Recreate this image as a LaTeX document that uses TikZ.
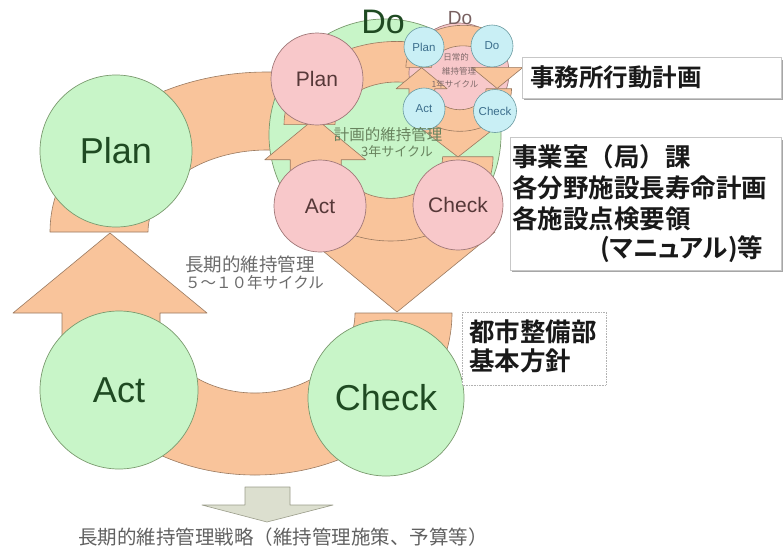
\documentclass[tikz,border=0pt]{standalone}
\usepackage{fontspec}
\setmainfont{Liberation Sans}
\newfontfamily\cjk{Noto Sans CJK JP}[BoldFont={Noto Sans CJK JP Bold}]
\definecolor{orf}{HTML}{F9C49B}
\definecolor{ord}{HTML}{9A7A60}
\definecolor{grf}{HTML}{C8F5C8}
\definecolor{grd}{HTML}{7A9A6E}
\definecolor{grt}{HTML}{1F4A22}
\definecolor{pkf}{HTML}{F8C8CA}
\definecolor{pkd}{HTML}{A07878}
\definecolor{pkt}{HTML}{563838}
\definecolor{blf}{HTML}{C9EFF5}
\definecolor{bld}{HTML}{6A9AA0}
\definecolor{blt}{HTML}{3C6E8C}
\definecolor{gyf}{HTML}{DCDFCF}
\definecolor{gyd}{HTML}{9A9C8A}
\newcommand\orangetop{%
  \path[orng] (50,232) arc[start angle=180,end angle=300,x radius=217,y radius=160]
    -- (326.5,161) arc[start angle=300,end angle=180,x radius=119,y radius=82] -- cycle;}
\newcommand\orangebottom{%
  \path[orng] (452,313) arc[start angle=0,end angle=135,x radius=197,y radius=162]
    -- (184.3,369.6) arc[start angle=135,end angle=0,x radius=100,y radius=80] -- cycle;}
\newcommand\orangeleft{%
  \path[orng] (62,365) -- (62,313) -- (13,313) -- (110,233) -- (207,313) -- (160,313) -- (160,365) -- cycle;}
\newcommand\orangeparts{\orangetop\orangebottom\orangeleft}
\newcommand\orangehead{\path[orng] (300,232) -- (495,232) -- (397,312) -- cycle;}
\begin{document}
\begin{tikzpicture}[x=1pt,y=-1pt,
  orng/.style={fill=orf,draw=ord,line width=0.6pt,line join=round},
  gc/.style={circle,fill=grf,draw=grd,line width=0.7pt,inner sep=0pt,text=grt},
  pc/.style={circle,fill=pkf,draw=pkd,line width=0.7pt,inner sep=0pt,text=pkt},
  bc/.style={circle,fill=blf,draw=bld,line width=0.6pt,inner sep=0pt,text=blt},
  boxtxt/.style={anchor=west,inner sep=0pt,font=\cjk\bfseries\fontsize{25.5}{28}\selectfont,text=black!90},
  boxfr/.style={fill=white,draw=black!22,line width=0.6pt},
  shadow/.style={fill=black!35}
]
\useasboundingbox (0,0) rectangle (784,549);
\fill[white] (0,0) rectangle (784,549);

% ---------- large cycle ----------
\orangeparts
\node[gc,minimum size=232pt] (LD) at (385,135) {};
\orangehead
\node[gc,minimum size=152pt,font=\fontsize{36}{38}\selectfont] (LP) at (116,151) {Plan};
\node[gc,minimum size=158pt,font=\fontsize{36}{38}\selectfont] (LA) at (119,390) {Act};
\node[gc,minimum size=156pt,font=\fontsize{36}{38}\selectfont] (LC) at (386,398) {Check};

% ---------- middle cycle ----------
\begin{scope}[shift={(258,4)},scale=0.52]
  \orangetop
\end{scope}
\begin{scope}[shift={(258,-6)},scale=0.52]
  \orangebottom
\end{scope}
\begin{scope}[shift={(258,-3)},scale=0.52]
  \orangeleft
\end{scope}
\node[pc,minimum size=100pt] (MD) at (459,73) {};
\path[orng] (410,120) -- (505,120) -- (458,157) -- cycle;
\node[pc,minimum size=92pt,font=\fontsize{21}{23}\selectfont] (MP) at (317,79) {Plan};
\node[pc,minimum size=92pt,font=\fontsize{21}{23}\selectfont] (MA) at (320,206) {Act};
\node[pc,minimum size=90pt,font=\fontsize{21}{23}\selectfont] (MC) at (458,205) {Check};

% ---------- small cycle ----------
\begin{scope}[shift={(392.7,6.4)},scale=0.263]
  \orangeparts
\end{scope}
\node[bc,minimum size=42pt,font=\fontsize{11.5}{13}\selectfont] (SD) at (492,46) {Do};
\begin{scope}[shift={(392.7,6.4)},scale=0.263]
  \orangehead
\end{scope}
\node[bc,minimum size=40pt,font=\fontsize{11.5}{13}\selectfont] (SP) at (424,47) {Plan};
\node[bc,minimum size=42pt,font=\fontsize{11.5}{13}\selectfont] (SA) at (424,109) {Act};
\node[bc,minimum size=43pt,font=\fontsize{11.5}{13}\selectfont] (SC) at (495,111) {Check};

% ---------- Do labels ----------
\node[text=grt,font=\fontsize{34}{36}\selectfont,inner sep=0pt] (LDo) at (383,22) {Do};
\node[text=pkt!80,font=\fontsize{19}{21}\selectfont,inner sep=0pt] (MDo) at (460,18) {Do};

% ---------- cycle captions ----------
\node[anchor=west,inner sep=0pt,text=black!58,font=\cjk\fontsize{18.5}{20}\selectfont] (L1) at (185,264) {長期的維持管理};
\node[anchor=west,inner sep=0pt,text=black!58,font=\cjk\fontsize{15.5}{17}\selectfont] (L2) at (185,283) {５～１０年サイクル};
\node[inner sep=0pt,text=grd!85!black,font=\cjk\fontsize{15.5}{17}\selectfont] (M1) at (388,135) {計画的維持管理};
\node[inner sep=0pt,text=grd!85!black,font=\cjk\fontsize{13}{15}\selectfont] (M2) at (397,152) {3年サイクル};
\node[inner sep=0pt,text=pkt!75,font=\cjk\fontsize{8.5}{9}\selectfont] (S1) at (456,57) {日常的};
\node[inner sep=0pt,text=pkt!75,font=\cjk\fontsize{8.5}{9}\selectfont] (S2) at (459,71) {維持管理};
\node[inner sep=0pt,text=pkt!75,font=\cjk\fontsize{8.5}{9}\selectfont] (S3) at (455,84) {1年サイクル};

% ---------- bottom arrow ----------
\path[fill=gyf,draw=gyd,line width=0.6pt,line join=round]
  (245,487) -- (290,487) -- (290,505) -- (333,505) -- (267,522) -- (202,505) -- (245,505) -- cycle;
\node[anchor=west,inner sep=0pt,text=black!62,font=\cjk\fontsize{19.5}{21}\selectfont] (BT) at (78,537) {長期的維持管理戦略（維持管理施策、予算等）};

% ---------- right boxes ----------
\fill[shadow] (524,59.5) rectangle (783,100);
\draw[boxfr] (522,57) rectangle (781,98);
\node[boxtxt,font=\cjk\bfseries\fontsize{24.5}{27}\selectfont] (B1) at (530,77) {事務所行動計画};

\fill[shadow] (512,139.5) rectangle (783,272);
\draw[boxfr] (510,137) rectangle (781,270);
\node[boxtxt] (B2a) at (512,157) {事業室（局）課};
\node[boxtxt] (B2b) at (512,188) {各分野施設長寿命計画};
\node[boxtxt] (B2c) at (512,219) {各施設点検要領};
\node[boxtxt] (B2d) at (600,249) {\addfontfeature{RawFeature=+palt}(マニュアル)等};

\draw[fill=white,draw=black!30,densely dotted,line width=0.6pt] (462,312) rectangle (606,385);
\node[boxtxt] (B3a) at (469,332) {都市整備部};
\node[boxtxt] (B3b) at (469,361) {基本方針};
\end{tikzpicture}
\end{document}
